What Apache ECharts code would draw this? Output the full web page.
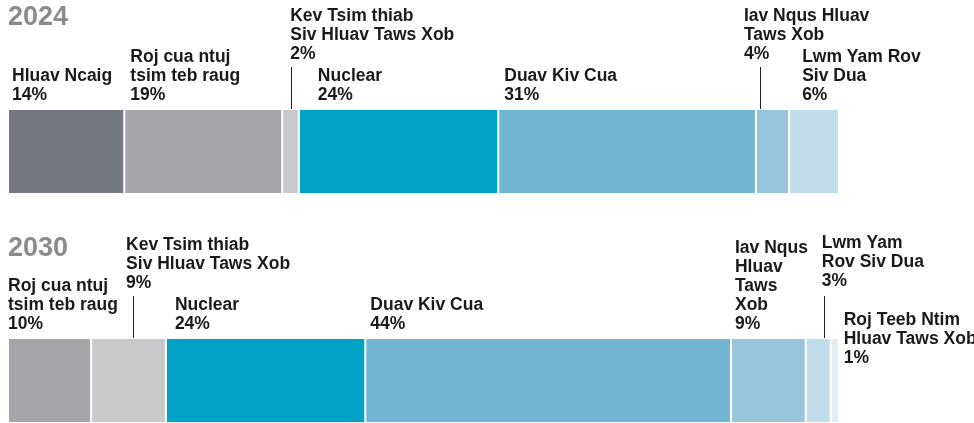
<!DOCTYPE html>
<html>
<head>
<meta charset="utf-8">
<script src="https://cdn.jsdelivr.net/npm/echarts@6/dist/echarts.min.js"></script>
<style>
html,body{margin:0;padding:0;background:#fff}
#chart{width:974px;height:423px}
</style>
</head>
<body>
<div id="chart"></div>
<script>
// data
var years = ['2024', '2030'];
var names2024 = ['Hluav Ncaig', 'Roj cua ntuj\ntsim teb raug', 'Kev Tsim thiab\nSiv Hluav Taws Xob', 'Nuclear', 'Duav Kiv Cua', 'Iav Nqus Hluav\nTaws Xob', 'Lwm Yam Rov\nSiv Dua'];
var values2024 = [14, 19, 2, 24, 31, 4, 6];
var names2030 = ['Roj cua ntuj\ntsim teb raug', 'Kev Tsim thiab\nSiv Hluav Taws Xob', 'Nuclear', 'Duav Kiv Cua', 'Iav Nqus\nHluav\nTaws\nXob', 'Lwm Yam\nRov Siv Dua', 'Roj Teeb Ntim\nHluav Taws Xob'];
var values2030 = [10, 9, 24, 44, 9, 3, 1];

// styles / layout
var colors2024 = ['#73777f', '#a5a6a9', '#c8c9cb', '#00a3c6', '#71b5d3', '#98c5dc', '#c0dce8'];
var colors2030 = ['#a5a6a9', '#c8c9cb', '#00a3c6', '#71b5d3', '#98c5dc', '#c0dce8', '#e3edf2'];
var labelDx2024 = [4, 6, 8, 19, 6, -12, 13];
var labelLift2024 = [0, 0, 41, 0, 0, 41, 0];
var labelDx2030 = [0, 35, 9, 5, 4, 16, 13];
var labelLift2030 = [0, 41, 0, 0, 0, 43, -34];
var leader2024 = [null, null, 1, null, null, 0.5, null];
var leader2030 = [null, 5, null, null, null, 2.2, null];
var barTops = [109, 338];
var barH = 85;
var FONT = '"Liberation Sans", Arial, sans-serif';

var chart = echarts.init(document.getElementById('chart'));

var sets = [
    {names: names2024, values: values2024, colors: colors2024, dx: labelDx2024, lift: labelLift2024, leader: leader2024},
    {names: names2030, values: values2030, colors: colors2030, dx: labelDx2030, lift: labelLift2030, leader: leader2030}
];

var grids = [], xAxes = [], yAxes = [], series = [];
for (var g = 0; g < sets.length; g++) {
    grids.push({left: 8, top: barTops[g], width: 831, height: barH});
    xAxes.push({type: 'value', gridIndex: g, min: 0, max: 100, show: false});
    yAxes.push({type: 'category', gridIndex: g, data: [years[g]], show: false});
    var s = sets[g];
    for (var i = 0; i < s.values.length; i++) {
        series.push({
            type: 'bar',
            name: s.names[i],
            xAxisIndex: g,
            yAxisIndex: g,
            stack: 'y' + years[g],
            barWidth: '100%',
            silent: true,
            itemStyle: {color: s.colors[i], borderColor: '#fff', borderWidth: 1},
            label: {
                show: true,
                position: [s.dx[i], -4.5 - s.lift[i]],
                align: 'left',
                verticalAlign: 'bottom',
                fontFamily: FONT,
                fontWeight: 'bold',
                fontSize: 17.5,
                lineHeight: 19,
                color: '#1a1a1a',
                formatter: (function (nm) {
                    return function (p) { return nm + '\n' + p.value + '%'; };
                })(s.names[i])
            },
            data: [s.values[i]]
        });
    }
}

chart.setOption({
    animation: false,
    grid: grids,
    xAxis: xAxes,
    yAxis: yAxes,
    series: series
});

// year titles + leader lines
var graphics = [];
for (var g = 0; g < sets.length; g++) {
    graphics.push({
        type: 'text',
        left: 8,
        top: barTops[g] - (g == 0 ? 105 : 103),
        style: {text: years[g], fontFamily: FONT, fontWeight: 'bold', fontSize: 27, fill: '#898b8e'}
    });
    var cum = 0, s = sets[g];
    for (var i = 0; i < s.values.length; i++) {
        if (s.leader[i] != null) {
            var x = Math.round(chart.convertToPixel({xAxisIndex: g}, cum + s.leader[i])) + 0.5;
            graphics.push({
                type: 'line',
                shape: {x1: x, y1: barTops[g] - 42, x2: x, y2: barTops[g]},
                style: {stroke: '#222', lineWidth: 1}
            });
        }
        cum += s.values[i];
    }
}
chart.setOption({graphic: graphics});
</script>
</body>
</html>
